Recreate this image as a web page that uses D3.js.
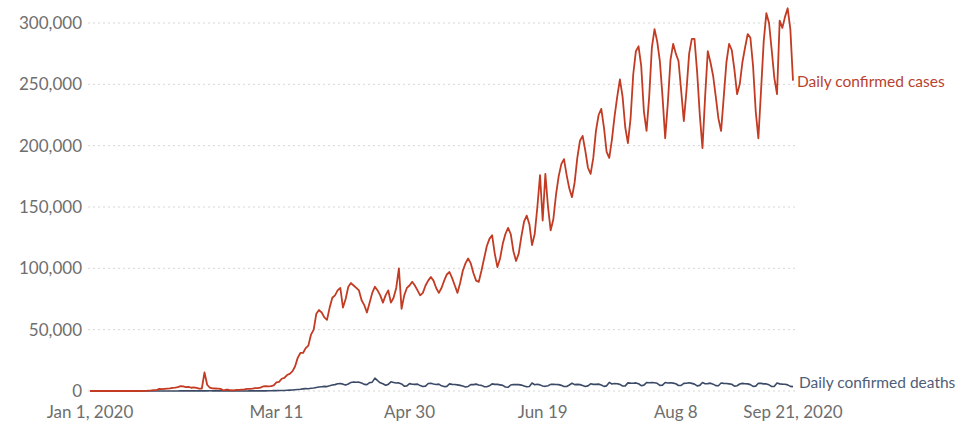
<!DOCTYPE html>
<html>
<head>
<meta charset="utf-8">
<script src="https://cdn.jsdelivr.net/npm/d3@7"></script>
<style>
  html, body { margin: 0; padding: 0; background: #fff; }
  svg { display: block; font-family: Lato, "Open Sans", sans-serif; }
</style>
</head>
<body>
<svg id="chart" width="964" height="421"></svg>
<script>
// ---- Data (daily values, one per day starting Jan 1, 2020) ----
const startDate = "2020-01-01";
const seriesNames = ["Daily confirmed cases", "Daily confirmed deaths"];
const dailyCases = [
  0,0,0,0,0,0,0,0,0,0,
  0,0,0,0,0,0,0,0,0,0,
  150,100,260,450,690,770,1770,1460,1740,1980,
  2100,2590,2830,3240,3890,3700,3160,3400,2660,3000,
  2500,2000,2050,15150,5090,2660,2100,2050,1900,1750,
  550,1000,1000,600,550,900,850,1100,1300,1800,
  1700,1900,2300,2300,2700,3700,4000,3800,4000,4600,
  7000,7500,10000,10700,13000,14000,16000,20000,27000,31000,
  31000,35000,37000,46000,50000,63000,66000,64000,60000,58000,
  68000,76000,78000,82000,84000,68000,75000,85000,88000,86000,
  84000,82000,74000,70000,64000,72000,80000,85000,82000,78000,
  72000,78000,82000,72000,76000,84000,100000,67000,78000,84000,
  86000,89000,86000,82000,78000,80000,86000,90000,93000,90000,
  84000,80000,84000,90000,95000,97000,92000,86000,80000,88000,
  98000,104000,108000,104000,96000,90000,89000,98000,108000,118000,
  124000,127000,112000,101000,108000,120000,128000,133000,128000,114000,
  106000,112000,126000,138000,143000,136000,119000,128000,150000,176000,
  139000,177000,150000,131000,140000,160000,175000,185000,189000,176000,
  165000,158000,170000,190000,204000,208000,196000,182000,177000,190000,
  212000,225000,230000,215000,195000,190000,205000,224000,240000,254000,
  240000,215000,202000,222000,258000,277000,281000,265000,228000,212000,
  240000,280000,295000,285000,269000,240000,206000,235000,270000,283000,
  275000,269000,245000,220000,245000,275000,287000,287000,260000,225000,
  198000,240000,277000,268000,257000,240000,222000,212000,240000,268000,
  283000,278000,262000,242000,250000,268000,280000,291000,288000,265000,
  228000,206000,245000,285000,308000,300000,278000,255000,242000,302000,
  296000,305000,312000,295000,253000
];
const dailyDeaths = [
  0,0,0,0,0,0,0,0,0,0,
  0,0,0,0,0,0,0,0,0,0,
  0,17,8,16,14,26,49,2,38,42,
  46,46,45,57,64,66,73,73,86,89,
  97,108,97,254,121,143,142,106,98,139,
  115,118,109,97,150,71,52,29,44,37,
  70,80,90,85,100,110,110,230,200,270,
  330,350,450,450,600,700,800,1000,1200,1400,
  1700,1900,1800,2200,2400,2800,3200,3500,3800,3600,
  4200,4900,5200,5900,6100,5600,4800,5700,7000,7400,
  7100,7200,6500,5400,5200,6800,7200,10500,8400,6700,
  5900,4700,5400,7500,7000,6500,6600,5800,4000,4200,
  6000,5500,5400,5600,4400,3600,4000,6100,6300,5700,
  5300,5600,4200,3600,3800,5800,5400,5300,5000,4600,
  4000,3300,3700,5200,5200,5600,4900,4600,3600,3500,
  4200,5800,5400,5400,5000,4600,3300,3000,4900,5300,
  5200,5200,4800,4100,3400,3700,6500,5100,5500,5000,
  4100,3800,4300,5400,5400,5300,5200,4600,3700,3700,
  4900,6300,5200,5400,5200,4500,3700,4200,5900,5400,
  5400,5600,4900,3800,4200,7000,5700,6100,5900,5400,
  4100,4200,6600,6400,6300,6600,5900,4300,4800,6800,
  6700,6800,6700,6300,4600,4800,6900,6500,6700,6400,
  5900,4500,4600,6200,6300,6700,6200,5600,4200,4600,
  6900,5900,6000,6400,5600,4400,4300,6500,6200,6100,
  5800,5500,4000,4300,5700,6200,5900,5800,5200,3800,
  4000,6300,6200,5800,5800,5000,3700,3800,6500,5800,
  5600,5500,5000,3800,3600
];
const yTicks = [0, 50000, 100000, 150000, 200000, 250000, 300000];
const xTickDates = ["2020-01-01", "2020-03-11", "2020-04-30", "2020-06-19", "2020-08-08", "2020-09-21"];
const xTickLabels = ["Jan 1, 2020", "Mar 11", "Apr 30", "Jun 19", "Aug 8", "Sep 21, 2020"];

// ---- Build ----
const parse = d3.utcParse("%Y-%m-%d");
const t0 = parse(startDate);
const toRows = arr => arr.map((v, i) => ({ date: d3.utcDay.offset(t0, i), value: v }));
const casesRows = toRows(dailyCases);
const deathsRows = toRows(dailyDeaths);

const svg = d3.select("#chart");
const x = d3.scaleUtc()
  .domain([t0, parse("2020-09-21")])
  .range([90, 793]);
const y = d3.scaleLinear()
  .domain([0, 300000])
  .range([391, 23]);

// Grid lines
svg.append("g")
  .selectAll("line")
  .data(yTicks)
  .join("line")
  .attr("x1", 88).attr("x2", 795)
  .attr("y1", d => y(d)).attr("y2", d => y(d))
  .attr("stroke", "#d6d6d6")
  .attr("stroke-width", 1)
  .attr("stroke-dasharray", "2,3");

// Y axis labels
svg.append("g")
  .selectAll("text")
  .data(yTicks)
  .join("text")
  .attr("x", 82)
  .attr("y", d => y(d))
  .attr("dy", "0.35em")
  .attr("text-anchor", "end")
  .attr("fill", "#6e6e6e")
  .attr("font-size", 17)
  .text(d => d3.format(",")(d));

// X axis labels
svg.append("g")
  .selectAll("text")
  .data(xTickDates.map((d, i) => ({ date: parse(d), label: xTickLabels[i] })))
  .join("text")
  .attr("x", d => x(d.date))
  .attr("y", 418)
  .attr("text-anchor", "middle")
  .attr("fill", "#6e6e6e")
  .attr("font-size", 17)
  .text(d => d.label);

const line = d3.line()
  .x(d => x(d.date))
  .y(d => y(d.value));

// Deaths line
svg.append("path")
  .datum(deathsRows)
  .attr("fill", "none")
  .attr("stroke", "#3b4a66")
  .attr("stroke-width", 1.6)
  .attr("stroke-linejoin", "round")
  .attr("d", line);

// Cases line
svg.append("path")
  .datum(casesRows)
  .attr("fill", "none")
  .attr("stroke", "#c23b22")
  .attr("stroke-width", 1.8)
  .attr("stroke-linejoin", "round")
  .attr("d", line);

// Series labels
const lastCases = casesRows[casesRows.length - 1];
const lastDeaths = deathsRows[deathsRows.length - 1];
svg.append("text")
  .attr("x", 797)
  .attr("y", y(lastCases.value) + 1)
  .attr("dy", "0.35em")
  .attr("fill", "#b8422e")
  .attr("font-size", 15.5)
  .text(seriesNames[0]);
svg.append("text")
  .attr("x", 799)
  .attr("y", y(lastDeaths.value) - 4)
  .attr("dy", "0.35em")
  .attr("fill", "#4f5d78")
  .attr("font-size", 15.5)
  .text(seriesNames[1]);
</script>
</body>
</html>
